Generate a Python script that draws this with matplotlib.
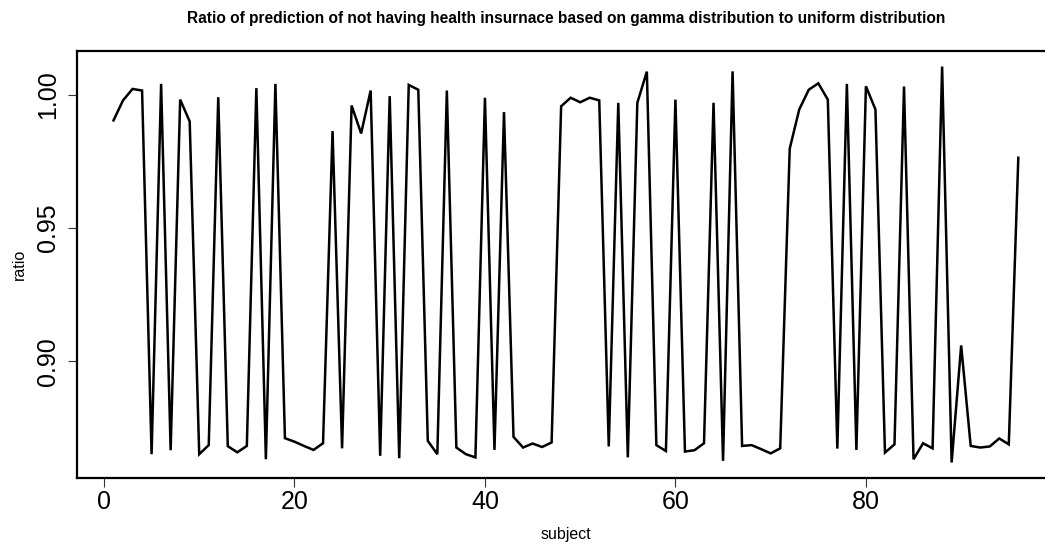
import matplotlib
matplotlib.use("Agg")
import matplotlib.pyplot as plt
import numpy as np

plt.rcParams['font.family'] = ['Liberation Sans', 'DejaVu Sans']

subject = list(range(1, 97))
ratio = [
    0.9903, 0.9978, 1.0021, 1.0015, 0.8651, 1.0040, 0.8666, 0.9981, 0.9899, 0.8651,
    0.8685, 0.9990, 0.8681, 0.8658, 0.8682, 1.0024, 0.8632, 1.0040, 0.8711, 0.8698,
    0.8682, 0.8667, 0.8692, 0.9863, 0.8673, 0.9959, 0.9854, 1.0015, 0.8645, 0.9994,
    0.8636, 1.0036, 1.0018, 0.8701, 0.8651, 1.0015, 0.8676, 0.8651, 0.8639, 0.9988,
    0.8667, 0.9934, 0.8716, 0.8676, 0.8691, 0.8678, 0.8695, 0.9956, 0.9988, 0.9971,
    0.9988, 0.9978, 0.8680, 0.9969, 0.8639, 0.9969, 1.0086, 0.8685, 0.8663, 0.9981,
    0.8661, 0.8666, 0.8692, 0.9969, 0.8626, 1.0087, 0.8682, 0.8685, 0.8670, 0.8654,
    0.8673, 0.9797, 0.9944, 1.0018, 1.0042, 0.9981, 0.8672, 1.0040, 0.8667, 1.0031,
    0.9944, 0.8657, 0.8688, 1.0030, 0.8632, 0.8692, 0.8673, 1.0105, 0.8620, 0.9059,
    0.8682, 0.8676, 0.8680, 0.8710, 0.8688, 0.9763,
]
xticks = [0, 20, 40, 60, 80]
yticks = [0.90, 0.95, 1.00]
ytick_labels = ["0.90", "0.95", "1.00"]
title = "Ratio of prediction of not having health insurnace based on gamma distribution to uniform distribution"

W, H = 1045, 550
fig = plt.figure(figsize=(W / 100, H / 100), dpi=100)
left, right, top, bottom = 77.3, 1054.5, 50.7, 478.3
ax = fig.add_axes([left / W, 1 - bottom / H, (right - left) / W, (bottom - top) / H])

ax.plot(subject, ratio, color='black', lw=1.8, solid_joinstyle='miter')

xs = np.array(subject); ys = np.array(ratio)
xspan = xs.max() - xs.min(); yspan = ys.max() - ys.min()
ax.set_xlim(xs.min() - 0.04 * xspan, xs.max() + 0.04 * xspan)
ax.set_ylim(ys.min() - 0.04 * yspan, ys.max() + 0.04 * yspan)

ax.set_xticks(xticks)
ax.set_xticklabels([str(t) for t in xticks])
ax.set_yticks(yticks)
ax.set_yticklabels(ytick_labels, rotation=90)
for lab in ax.get_yticklabels():
    lab.set_va('center')
ax.tick_params(axis='both', direction='out', length=6.5, width=0.8, color='#333333',
               labelsize=18, pad=2)
ax.tick_params(axis='y', pad=6)
for s in ax.spines.values():
    s.set_linewidth(1.6)

fig.text(566 / W, 1 - 19 / H, title, ha='center', va='center', fontsize=11.2, fontweight='bold')
fig.text(566 / W, 1 - 534 / H, "subject", ha='center', va='center', fontsize=11.5)
fig.text(19.5 / W, 1 - 264 / H, "ratio", ha='center', va='center', fontsize=11.5, rotation=90)

fig.savefig("out.png", dpi=100)
